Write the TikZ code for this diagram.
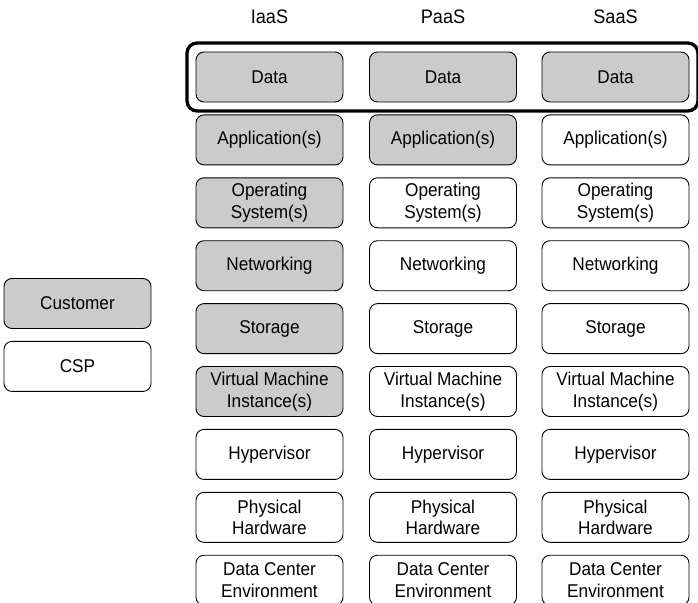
\documentclass[tikz,border=0pt]{standalone}
\usepackage{fontspec}
\setmainfont{Liberation Sans}[FakeStretch=0.93]
\usepackage{tikz}
\usetikzlibrary{positioning, fit}
\definecolor{custgray}{RGB}{203,203,203}

\begin{document}
\begin{tikzpicture}[
    x=1pt, y=1pt,
    layer/.style={draw, rounded corners=8pt, line width=0.9pt, minimum width=147pt,
                  minimum height=50pt, inner sep=0pt, align=center,
                  font=\fontsize{18.5}{21.5}\selectfont},
    cust/.style={layer, fill=custgray},
    csp/.style={layer, fill=white},
    head/.style={font=\fontsize{19.5}{22}\selectfont},
    node distance=12pt
  ]
    \useasboundingbox (0,0) rectangle (698,-602);

    % IaaS column
    \node[cust]                  (i-data) at (269.5,-77) {Data};
    \node[cust, below=of i-data] (i-app)  {Application(s)};
    \node[cust, below=of i-app]  (i-os)   {Operating\\System(s)};
    \node[cust, below=of i-os]   (i-net)  {Networking};
    \node[cust, below=of i-net]  (i-sto)  {Storage};
    \node[cust, below=of i-sto]  (i-vm)   {Virtual Machine\\Instance(s)};
    \node[csp,  below=of i-vm]   (i-hyp)  {Hypervisor};
    \node[csp,  below=of i-hyp]  (i-hw)   {Physical\\Hardware};
    \node[csp,  below=of i-hw]   (i-dc)   {Data Center\\Environment};

    % PaaS column
    \node[cust]                  (p-data) at (443,-77) {Data};
    \node[cust, below=of p-data] (p-app)  {Application(s)};
    \node[csp,  below=of p-app]  (p-os)   {Operating\\System(s)};
    \node[csp,  below=of p-os]   (p-net)  {Networking};
    \node[csp,  below=of p-net]  (p-sto)  {Storage};
    \node[csp,  below=of p-sto]  (p-vm)   {Virtual Machine\\Instance(s)};
    \node[csp,  below=of p-vm]   (p-hyp)  {Hypervisor};
    \node[csp,  below=of p-hyp]  (p-hw)   {Physical\\Hardware};
    \node[csp,  below=of p-hw]   (p-dc)   {Data Center\\Environment};

    % SaaS column
    \node[cust]                  (s-data) at (615.5,-77) {Data};
    \node[csp,  below=of s-data] (s-app)  {Application(s)};
    \node[csp,  below=of s-app]  (s-os)   {Operating\\System(s)};
    \node[csp,  below=of s-os]   (s-net)  {Networking};
    \node[csp,  below=of s-net]  (s-sto)  {Storage};
    \node[csp,  below=of s-sto]  (s-vm)   {Virtual Machine\\Instance(s)};
    \node[csp,  below=of s-vm]   (s-hyp)  {Hypervisor};
    \node[csp,  below=of s-hyp]  (s-hw)   {Physical\\Hardware};
    \node[csp,  below=of s-hw]   (s-dc)   {Data Center\\Environment};

    % column headings
    \node[head] (iaas) at (269.5,-17) {IaaS};
    \node[head] (paas) at (443,-17)   {PaaS};
    \node[head] (saas) at (615.5,-17) {SaaS};

    % data row is always on the customer side
    \node[draw, line width=3.3pt, rounded corners=10pt, inner sep=8.5pt,
          fit=(i-data)(s-data)] (datarow) {};

    % legend
    \node[cust]                (legcust) at (77.5,-303.5) {Customer};
    \node[csp, below=of legcust] (legcsp)  {CSP};
\end{tikzpicture}
\end{document}
